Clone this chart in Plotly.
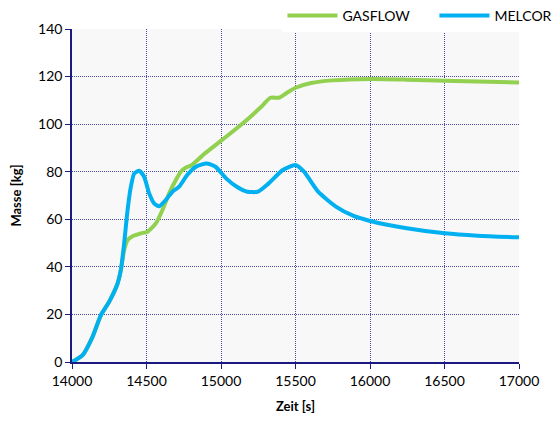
import plotly.graph_objects as go

gas_t = [14000, 14071, 14138, 14194, 14250, 14306, 14328, 14350, 14373, 14406, 14462, 14507,
         14563, 14607, 14652, 14697, 14730, 14765, 14800, 14892, 15010, 15129, 15272, 15331, 15391, 15438, 15500,
         15605, 15748, 16002, 16247, 16501, 17000]
gas_v = [0, 2.9, 10.6, 19.7, 25.4, 33, 38.7, 47, 51.3, 52.9, 54.1, 54.8,
         58.3, 63.9, 70.9, 76.5, 80, 81.8, 82.6, 87.7, 93.5, 99.4, 107.4, 111.1, 111.1, 113, 115.3,
         117.3, 118.4, 119, 118.7, 118.2, 117.5]

mel_t = [14000, 14071, 14138, 14194, 14250, 14306, 14328, 14350, 14373, 14395, 14418, 14451, 14484,
         14518, 14551, 14585, 14629, 14674, 14719, 14773, 14832, 14903, 14963, 15034, 15106, 15177, 15248,
         15320, 15415, 15500, 15557, 15652, 15771, 15890, 16002, 16247, 16501, 16722, 17000]
mel_v = [0, 2.9, 10.6, 19.7, 25.4, 33, 38.7, 49.9, 63.9, 73.7, 79.3, 80.4, 77.9,
         70.9, 66.7, 65.5, 68.1, 71.6, 73.7, 78.6, 82.1, 83.5, 82.1, 77.2, 73.7, 71.6, 71.6,
         75.1, 80.7, 82.8, 80, 71.6, 65.3, 61.4, 59.3, 56.2, 54.1, 53.1, 52.4]

x_ticks = [14000, 14500, 15000, 15500, 16000, 16500, 17000]
y_ticks = [0, 20, 40, 60, 80, 100, 120, 140]

NAVY = "#1a1a80"
FONT = "Lato"

fig = go.Figure()
fig.add_trace(go.Scatter(x=gas_t, y=gas_v, mode="lines", name="GASFLOW",
                         line=dict(color="#92d050", width=4, shape="spline", smoothing=0.6)))
fig.add_trace(go.Scatter(x=mel_t, y=mel_v, mode="lines", name="MELCOR",
                         line=dict(color="#00b0f0", width=4, shape="spline", smoothing=0.6)))

axis_common = dict(showline=True, linecolor=NAVY, linewidth=1.5, ticks="outside", ticklen=5,
                   tickcolor=NAVY, tickwidth=1, showgrid=True, gridcolor="#4a4aa0", griddash="1px,1px",
                   gridwidth=1, zeroline=False, tickfont=dict(family=FONT, size=14, color="#000"))

fig.update_xaxes(range=[14000, 17000], tickvals=x_ticks, ticktext=[str(v) for v in x_ticks],
                 title=dict(text="<b>Zeit [s]</b>", font=dict(family=FONT, size=13, color="#000"), standoff=14),
                 **axis_common)
fig.update_yaxes(range=[0, 140], tickvals=y_ticks, ticktext=[str(v) for v in y_ticks],
                 title=dict(text="<b>Masse [kg]</b>", font=dict(family=FONT, size=13, color="#000"), standoff=14),
                 **axis_common)

fig.update_layout(
    width=556, height=421,
    margin=dict(l=72, r=37, t=29, b=59, autoexpand=False),
    plot_bgcolor="#f8f8f8", paper_bgcolor="#ffffff",
    showlegend=True,
    legend=dict(orientation="h", xref="container", yref="container", x=0.508, xanchor="left",
                y=1, yanchor="top", bgcolor="#ffffff", borderwidth=0,
                font=dict(family=FONT, size=14, color="#000"), itemwidth=50,
                entrywidth=87, tracegroupgap=0),
)

fig.write_html("out.html")
